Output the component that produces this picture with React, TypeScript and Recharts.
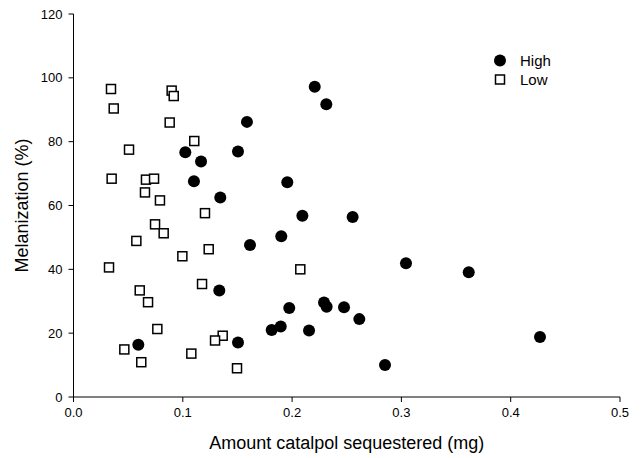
import React from "react";
import { ScatterChart, Scatter, XAxis, YAxis, Legend, Label } from "recharts";

// values
const HIGH_X = [0.2207, 0.2313, 0.1587, 0.1023, 0.1505, 0.1167, 0.1102, 0.1956, 0.1343, 0.2094, 0.2554, 0.1901, 0.1615, 0.3042, 0.3616, 0.1334, 0.2292, 0.2316, 0.1974, 0.2475, 0.2615, 0.1813, 0.1896, 0.2155, 0.285, 0.4268, 0.1505, 0.0593];
const HIGH_Y = [97.2, 91.7, 86.2, 76.7, 76.9, 73.8, 67.6, 67.3, 62.5, 56.8, 56.4, 50.4, 47.6, 41.9, 39.1, 33.4, 29.6, 28.3, 27.9, 28.1, 24.4, 21.0, 22.1, 20.8, 10.0, 18.8, 17.1, 16.4];

const LOW_X = [0.0343, 0.0898, 0.0917, 0.0368, 0.088, 0.1105, 0.0508, 0.0349, 0.0663, 0.0737, 0.0654, 0.0791, 0.1203, 0.0746, 0.0825, 0.0575, 0.1237, 0.0996, 0.0325, 0.1176, 0.0606, 0.0682, 0.0767, 0.1365, 0.1295, 0.0465, 0.1078, 0.062, 0.1496, 0.2075];
const LOW_Y = [96.5, 96.0, 94.3, 90.4, 86.0, 80.2, 77.5, 68.4, 68.1, 68.4, 64.1, 61.6, 57.6, 54.1, 51.3, 48.9, 46.3, 44.1, 40.6, 35.4, 33.4, 29.7, 21.3, 19.2, 17.7, 14.9, 13.6, 10.9, 9.0, 40.0];

const X_TICKS = [0, 0.1, 0.2, 0.3, 0.4, 0.5];
const Y_TICKS = [0, 20, 40, 60, 80, 100, 120];

const highData = HIGH_X.map((x, i) => ({ x, y: HIGH_Y[i] }));
const lowData = LOW_X.map((x, i) => ({ x, y: LOW_Y[i] }));

const FONT = "'Liberation Sans', Arial, sans-serif";

const Dot = (p: any) => <circle cx={p.cx} cy={p.cy} r={6} fill="#000" />;
const Square = (p: any) => (
  <rect x={p.cx - 4.5} y={p.cy - 4.5} width={9} height={9} fill="#fff" stroke="#000" strokeWidth={1.5} />
);

function LegendBox() {
  return (
    <div style={{ fontFamily: FONT, fontSize: 15, color: "#000", lineHeight: "19px" }}>
      <div style={{ display: "flex", alignItems: "center" }}>
        <svg width={26} height={19}><circle cx={6} cy={9.5} r={6} fill="#000" /></svg>
        <span>High</span>
      </div>
      <div style={{ display: "flex", alignItems: "center" }}>
        <svg width={26} height={19}><rect x={1.5} y={5} width={9} height={9} fill="#fff" stroke="#000" strokeWidth={1.5} /></svg>
        <span>Low</span>
      </div>
    </div>
  );
}

export default function App() {
  const tick = { fill: "#000", fontSize: 13, fontFamily: FONT };
  return (
    <div style={{ position: "absolute", left: 0, top: 0, background: "#fff" }}>
      <ScatterChart width={641} height={458} margin={{ top: 14, right: 21, bottom: 0, left: 0 }} style={{ fontFamily: FONT }}>
        <XAxis
          type="number" dataKey="x" domain={[0, 0.5]} ticks={X_TICKS}
          tickFormatter={(v: number) => v.toFixed(1)}
          height={61} tick={tick} tickSize={5} tickMargin={6}
          stroke="#000" axisLine={{ stroke: "#000" }} tickLine={{ stroke: "#000" }}
        >
          <Label value="Amount catalpol sequestered (mg)" position="insideBottom" offset={9}
            style={{ fontSize: 18, fill: "#000", fontFamily: FONT }} />
        </XAxis>
        <YAxis
          type="number" dataKey="y" domain={[0, 120]} ticks={Y_TICKS}
          width={73.5} tick={tick} tickSize={5} tickMargin={6}
          stroke="#000" axisLine={{ stroke: "#000" }} tickLine={{ stroke: "#000" }}
        >
          <Label value="Melanization (%)" angle={-90} position="insideLeft" offset={22}
            style={{ fontSize: 18, fill: "#000", fontFamily: FONT, textAnchor: "middle" }} />
        </YAxis>
        <Legend
          layout="vertical" align="center" verticalAlign="middle"
          content={() => <LegendBox />}
          wrapperStyle={{ position: "absolute", top: 51, left: 494, width: 80 }}
        />
        <Scatter name="High" data={highData} shape={Dot} isAnimationActive={false} />
        <Scatter name="Low" data={lowData} shape={Square} isAnimationActive={false} />
      </ScatterChart>
    </div>
  );
}
